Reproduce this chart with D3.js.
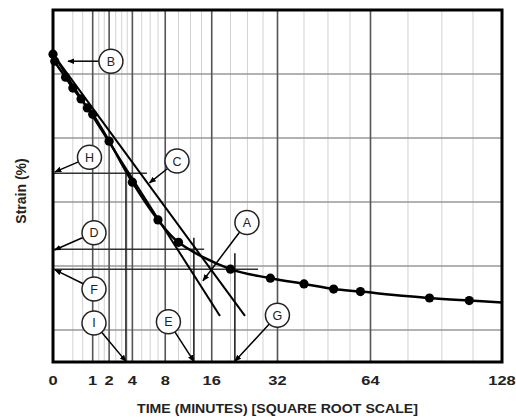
<!DOCTYPE html>
<html><head><meta charset="utf-8">
<script src="https://cdn.jsdelivr.net/npm/d3@7"></script>
<style>body{margin:0;background:#fff}svg{display:block}</style>
</head><body>
<svg id="chart" width="516" height="420"></svg>
<script>
// ---- data ----
const timeTicks = [0, 1, 2, 4, 8, 16, 32, 64, 128];
const majorTimes = [1, 2, 4, 8, 16, 32, 64];
const minorTimes = [0.25, 0.56, 1.33, 1.67, 2.5, 3, 3.5, 5, 6, 7, 10, 12, 14, 20, 24, 28, 40, 48, 56, 80, 96, 112];
const strainGrid = [1, 2, 3, 4, 5];

const times  = [0, 0.002, 0.1, 0.25, 0.5, 0.75, 1, 2, 4, 7, 10, 20, 30, 40, 50, 60, 90, 110];
const strain = [0.69, 0.80, 1.05, 1.22, 1.39, 1.53, 1.63, 2.05, 2.69, 3.28, 3.63, 4.05, 4.19, 4.28, 4.36, 4.40, 4.50, 4.54];
const curveTailTime = 128, curveTailStrain = 4.57;

// tangent lines (t0,s0) -> (t1,s1)
const tangentStart = [0, 0.69];
const tangentEnds = [[17.7, 4.78], [23.4, 4.78]];

// horizontal construction lines: strain, end time
const hRefStrain = [2.55, 3.74, 4.05];
const hRefEnd = [5.6, 14.5, 26.7];
// vertical construction lines: time, top strain
const vRefTime = [3.38, 12.6, 21.0];
const vRefTop = [2.55, 3.56, 3.80];

// annotation labels: circle centre (t,s) and arrow tip (t,s)
const labels = ["B", "H", "C", "D", "F", "I", "E", "G", "A"];
const labelT = [2.13, 0.845, 9.76, 1.067, 1.067, 1.067, 8.46, 31.98, 23.88];
const labelS = [0.80, 2.30, 2.36, 3.48, 4.36, 4.89, 4.87, 4.77, 3.32];
const tipT   = [0.143, 0.0025, 5.91, 0.0014, 0.0025, 3.38, 12.6, 21.0, 14.28];
const tipS   = [0.80, 2.53, 2.70, 3.75, 4.06, 5.49, 5.49, 5.49, 4.23];

// ---- layout ----
const L = 53, R = 502, T = 10, B = 362;
const svg = d3.select("#chart");
const x = d3.scaleSqrt().domain([0, 128]).range([L, R]);
const y = d3.scaleLinear().domain([0, 5.5]).range([T, B]);

svg.append("defs").append("marker")
  .attr("id", "ah").attr("viewBox", "0 0 10 10").attr("refX", 9).attr("refY", 5)
  .attr("markerWidth", 7).attr("markerHeight", 7).attr("markerUnits", "userSpaceOnUse")
  .attr("orient", "auto")
  .append("path").attr("d", "M0,1 L10,5 L0,9 Z").attr("fill", "#000");

// minor grid
svg.append("g").selectAll("line").data(minorTimes).join("line")
  .attr("x1", d => x(d)).attr("x2", d => x(d)).attr("y1", T).attr("y2", B)
  .attr("stroke", "#d2d2d2").attr("stroke-width", 1);

// horizontal grid
svg.append("g").selectAll("line").data(strainGrid).join("line")
  .attr("x1", L).attr("x2", R).attr("y1", d => y(d)).attr("y2", d => y(d))
  .attr("stroke", "#999").attr("stroke-width", 1.5);

// major verticals
svg.append("g").selectAll("line").data(majorTimes).join("line")
  .attr("x1", d => x(d)).attr("x2", d => x(d)).attr("y1", T).attr("y2", B)
  .attr("stroke", "#555").attr("stroke-width", 1.6);

// construction lines
svg.append("g").selectAll("line").data(hRefStrain).join("line")
  .attr("x1", L).attr("x2", (d, i) => x(hRefEnd[i])).attr("y1", d => y(d)).attr("y2", d => y(d))
  .attr("stroke", "#333").attr("stroke-width", 1.5);
svg.append("g").selectAll("line").data(vRefTime).join("line")
  .attr("x1", d => x(d)).attr("x2", d => x(d)).attr("y1", (d, i) => y(vRefTop[i])).attr("y2", B)
  .attr("stroke", "#222").attr("stroke-width", 1.6);

// tangent lines
svg.append("g").selectAll("line").data(tangentEnds).join("line")
  .attr("x1", x(tangentStart[0])).attr("y1", y(tangentStart[1]))
  .attr("x2", d => x(d[0])).attr("y2", d => y(d[1]))
  .attr("stroke", "#000").attr("stroke-width", 2);

// curve
const pts = times.map((t, i) => [t, strain[i]]).concat([[curveTailTime, curveTailStrain]]);
svg.append("path").datum(pts)
  .attr("d", d3.line().x(d => x(d[0])).y(d => y(d[1])).curve(d3.curveCatmullRom.alpha(0.5)))
  .attr("fill", "none").attr("stroke", "#000").attr("stroke-width", 2.5);

svg.append("g").selectAll("circle").data(times).join("circle")
  .attr("cx", d => x(d)).attr("cy", (d, i) => y(strain[i])).attr("r", 4.6).attr("fill", "#000");

// annotations
const rC = 12;
const ann = svg.append("g");
labels.forEach((lab, i) => {
  const cx = x(labelT[i]), cy = y(labelS[i]);
  const tx = x(tipT[i]), ty = y(tipS[i]);
  const dx = tx - cx, dy = ty - cy, len = Math.hypot(dx, dy);
  ann.append("line")
    .attr("x1", cx + dx / len * rC).attr("y1", cy + dy / len * rC)
    .attr("x2", tx).attr("y2", ty)
    .attr("stroke", "#000").attr("stroke-width", 1.5).attr("marker-end", "url(#ah)");
  ann.append("circle").attr("cx", cx).attr("cy", cy).attr("r", rC)
    .attr("fill", "#fff").attr("stroke", "#222").attr("stroke-width", 1.5);
  ann.append("text").attr("x", cx).attr("y", cy + 4.5).attr("text-anchor", "middle")
    .attr("font-family", "Liberation Sans, Arial, sans-serif").attr("font-size", 12.5)
    .attr("fill", "#222").text(lab);
});

// border
svg.append("rect").attr("x", L).attr("y", T).attr("width", R - L).attr("height", B - T)
  .attr("fill", "none").attr("stroke", "#000").attr("stroke-width", 3);

// x tick labels
svg.append("g").selectAll("text").data(timeTicks).join("text")
  .attr("transform", d => `translate(${x(d)},384.5) scale(1.22,1)`)
  .attr("text-anchor", "middle")
  .attr("font-family", "Liberation Sans, Arial, sans-serif").attr("font-weight", "bold")
  .attr("font-size", 13.5).attr("fill", "#222").text(d => d);

// axis titles
svg.append("text").attr("x", 277.5).attr("y", 413).attr("text-anchor", "middle")
  .attr("font-family", "Liberation Sans, Arial, sans-serif").attr("font-weight", "bold")
  .attr("font-size", 13).attr("textLength", 281).attr("lengthAdjust", "spacingAndGlyphs")
  .attr("fill", "#222").text("TIME (MINUTES) [SQUARE ROOT SCALE]");
svg.append("text").attr("transform", "translate(26,191) rotate(-90)").attr("text-anchor", "middle")
  .attr("font-family", "Liberation Sans, Arial, sans-serif").attr("font-weight", "bold")
  .attr("font-size", 14).attr("fill", "#222").text("Strain (%)");
</script>
</body></html>
